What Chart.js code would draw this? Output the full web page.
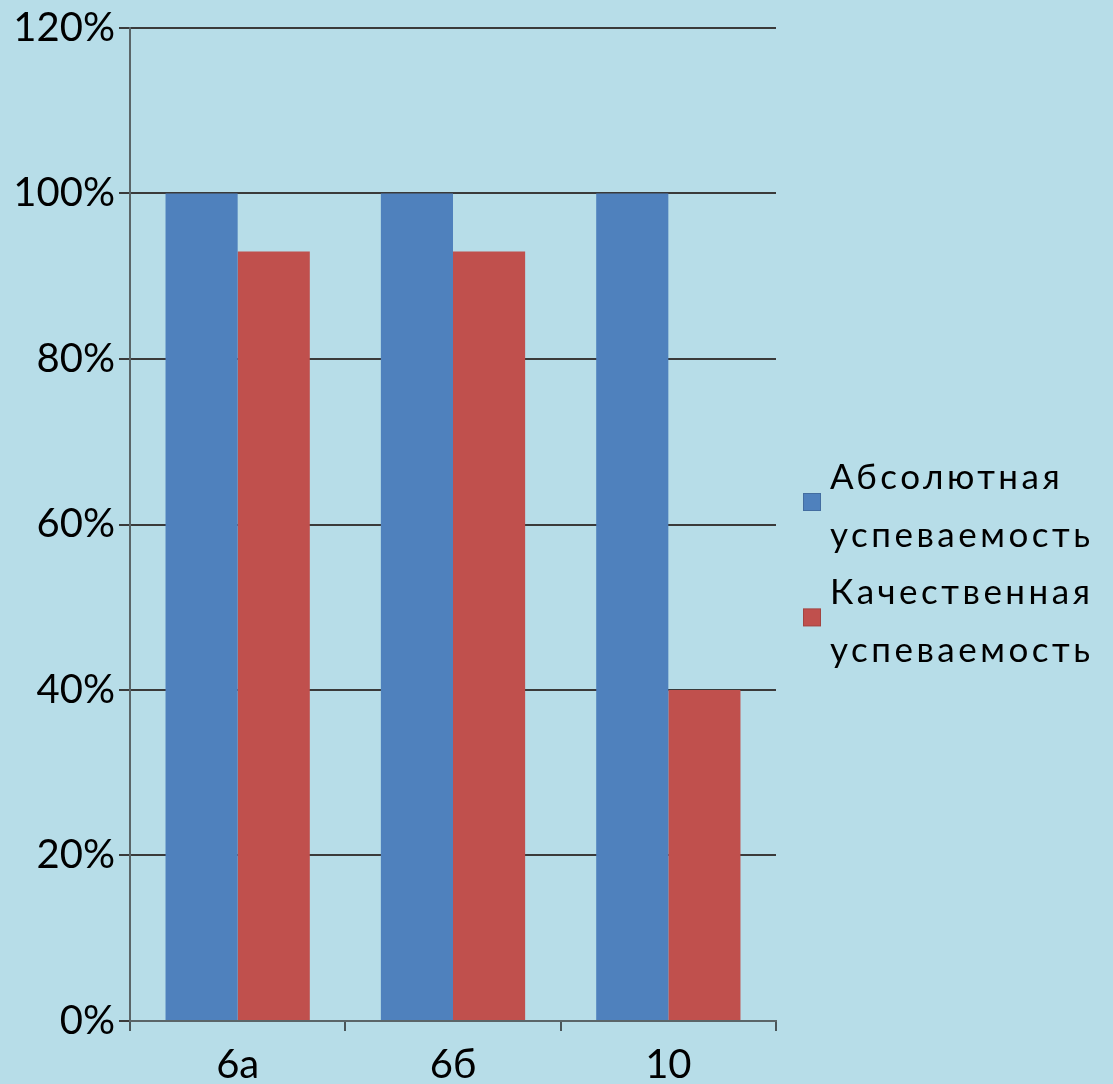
<!DOCTYPE html>
<html>
<head>
<meta charset="utf-8">
<script src="https://cdn.jsdelivr.net/npm/chart.js@4"></script>
<style>
html,body{margin:0;padding:0;background:#b7dde8;}
#wrap{width:1113px;height:1084px;position:relative;}
</style>
</head>
<body>
<div id="wrap"><canvas id="c" width="1113" height="1084"></canvas></div>
<script>
const categories = ['6а', '6б', '10'];
const seriesNames = ['Абсолютная успеваемость', 'Качественная успеваемость'];
const absoluteValues = [1.00, 1.00, 1.00];
const qualityValues = [0.93, 0.93, 0.40];
const yTicks = [0, 0.2, 0.4, 0.6, 0.8, 1.0, 1.2];
const colors = ['#4f81bd', '#c0504d'];

const FONT = 'Lato, "Open Sans", sans-serif';

const legendPlugin = {
  id: 'wrappedLegend',
  afterDraw(chart) {
    const ctx = chart.ctx;
    ctx.save();
    ctx.font = '35px ' + FONT;
    try { ctx.letterSpacing = '3.5px'; } catch (e) {}
    ctx.textBaseline = 'alphabetic';
    ctx.fillStyle = '#000';
    const x0 = 830;
    let baseline = 489;
    const lh = 57.7;
    chart.data.datasets.forEach((ds, i) => {
      const lines = ds.label.split(' ');
      lines.forEach((ln, j) => ctx.fillText(ln, x0, baseline + j * lh));
      const top = baseline + 4;
      ctx.fillStyle = ds.backgroundColor;
      ctx.fillRect(803, top, 18, 18);
      ctx.strokeStyle = 'rgba(0,0,0,0.15)';
      ctx.lineWidth = 1;
      ctx.strokeRect(803.5, top + 0.5, 17, 17);
      ctx.fillStyle = '#000';
      baseline += lines.length * lh;
    });
    ctx.restore();
  }
};

new Chart(document.getElementById('c'), {
  type: 'bar',
  data: {
    labels: categories,
    datasets: [
      { label: seriesNames[0], data: absoluteValues, backgroundColor: colors[0], borderWidth: 0 },
      { label: seriesNames[1], data: qualityValues, backgroundColor: colors[1], borderWidth: 0 }
    ]
  },
  options: {
    responsive: false,
    animation: false,
    devicePixelRatio: 1,
    layout: { padding: { top: 10, right: 337, left: 0, bottom: 0 } },
    plugins: { legend: { display: false }, tooltip: { enabled: false } },
    datasets: { bar: { categoryPercentage: 0.67, barPercentage: 1.0 } },
    scales: {
      x: {
        grid: { drawOnChartArea: false, drawTicks: true, tickLength: 10, color: '#4a5558', lineWidth: 2, offset: true },
        border: { color: '#5a6568', width: 2 },
        ticks: { color: '#000', font: { family: FONT, size: 40 }, padding: 10 },
        afterFit(scale) { scale.height = 63; }
      },
      y: {
        min: 0, max: 1.2,
        afterBuildTicks(scale) { scale.ticks = yTicks.map(v => ({ value: v })); },
        grid: { color: '#3a3a3a', lineWidth: 2, drawTicks: true, tickLength: 11 },
        border: { color: '#5a6568', width: 2 },
        ticks: {
          color: '#000', font: { family: FONT, size: 40 }, padding: 4,
          callback: v => Math.round(v * 100) + '%'
        },
        afterFit(scale) { scale.width = 130; }
      }
    }
  },
  plugins: [legendPlugin]
});
</script>
</body>
</html>
